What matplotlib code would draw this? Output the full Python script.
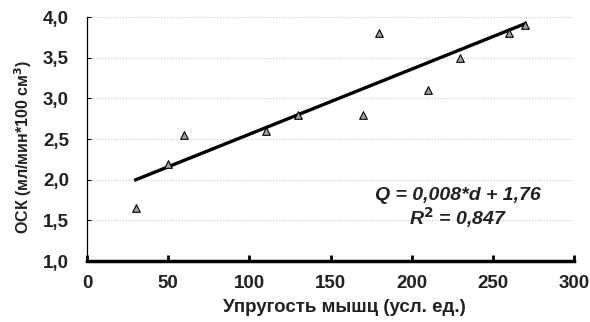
import matplotlib.pyplot as plt
import numpy as np
from matplotlib.ticker import FuncFormatter

plt.rcParams['font.family'] = ['Liberation Sans', 'DejaVu Sans']

# elasticity (arb. units) vs OSK
elasticity = [30, 50, 60, 110, 130, 170, 180, 210, 230, 260, 270]
osk = [1.65, 2.2, 2.55, 2.6, 2.8, 2.8, 3.8, 3.1, 3.5, 3.8, 3.9]

# regression coefficients from the label
slope = 0.008
intercept = 1.76

fig = plt.figure(figsize=(5.9, 3.22), dpi=100)
ax = fig.add_axes([0.1475, 0.189, 0.8255, 0.758])

ax.grid(axis='y', color='#c8c8c8', linestyle=':', linewidth=0.8)
ax.set_axisbelow(True)

ax.scatter(elasticity, osk, marker='^', s=30, facecolor='#a0a0a0',
           edgecolor='black', linewidth=0.8, zorder=3)

xl = np.array([min(elasticity), max(elasticity)])
ax.plot(xl, slope * xl + intercept, color='black', linewidth=2.4, zorder=2)

ax.set_xlim(0, 300)
ax.set_ylim(1.0, 4.0)
ax.set_xticks(np.arange(0, 301, 50))
ax.set_yticks(np.arange(1.0, 4.01, 0.5))
ax.yaxis.set_major_formatter(FuncFormatter(lambda v, p: f'{v:.1f}'.replace('.', ',')))

for s in ['top', 'right']:
    ax.spines[s].set_visible(False)
ax.spines['bottom'].set_linewidth(2.5)
ax.spines['left'].set_linewidth(0.9)

ax.tick_params(axis='x', direction='in', length=4, width=2, pad=10, labelsize=13.5)
ax.tick_params(axis='y', direction='in', length=3, width=0.8, pad=13, labelsize=13.5)
for lab in ax.get_xticklabels() + ax.get_yticklabels():
    lab.set_fontweight('bold')
    lab.set_color('#222222')

ax.set_xlabel('Упругость мышц (усл. ед.)', fontsize=13.5, fontweight='bold',
              color='#222222')
ax.xaxis.set_label_coords(0.528, -0.155)
ax.set_ylabel('ОСК (мл/мин*100 см$^{\\mathbf{3}}$)', fontsize=11.5, fontweight='bold',
              color='#222222')
ax.yaxis.set_label_coords(-0.108, 0.47)

ax.text(228.5, 1.81, 'Q = 0,008*d + 1,76', fontsize=14, fontweight='bold',
        style='italic', ha='center', va='center', color='#222222')
ax.text(228.5, 1.53, 'R$^{\\mathbf{2}}$ = 0,847', fontsize=14, fontweight='bold',
        style='italic', ha='center', va='center', color='#222222')

fig.savefig('out.png', dpi=100)
